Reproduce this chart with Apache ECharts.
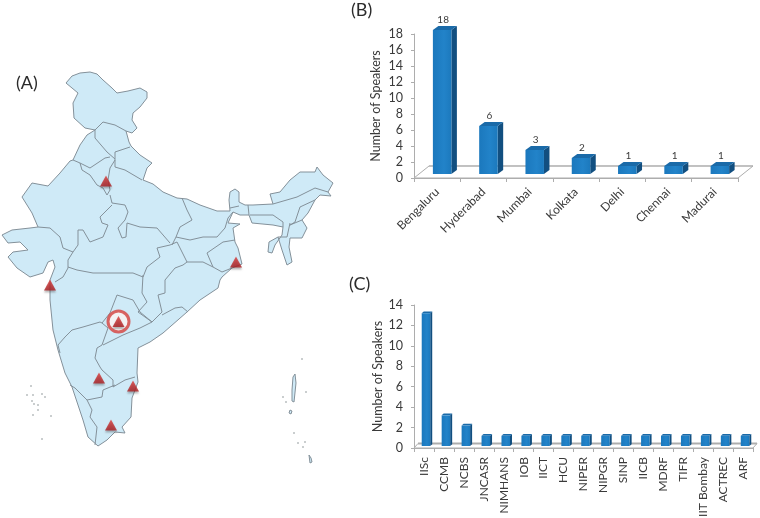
<!DOCTYPE html>
<html>
<head>
<meta charset="utf-8">
<style>html,body{margin:0;background:#fff}#chart{width:760px;height:518px;filter:blur(0.35px)}</style>
<script src="https://cdn.jsdelivr.net/npm/echarts@6/dist/echarts.min.js"></script>
</head>
<body>
<div id="chart"></div>
<script>
// panel B
const cities = ['Bengaluru', 'Hyderabad', 'Mumbai', 'Kolkata', 'Delhi', 'Chennai', 'Madurai']
const citySpeakers = [18, 6, 3, 2, 1, 1, 1]
// panel C
const institutes = ['IISc', 'CCMB', 'NCBS', 'JNCASR', 'NIMHANS', 'IOB', 'IICT', 'HCU', 'NIPER', 'NIPGR', 'SINP', 'IICB', 'MDRF', 'TIFR', 'IIT Bombay', 'ACTREC', 'ARF']
const instituteSpeakers = [13, 3, 2, 1, 1, 1, 1, 1, 1, 1, 1, 1, 1, 1, 1, 1, 1]

const cityMarkers = [[99, 378], [50, 285], [236, 262], [106, 181], [133, 386], [111, 425]]
const hostCity = [[118.5, 321.5]]
const indiaOutline = [
  [66,83],[72,76],[80,73],[90,72],[97,74],[103,80],[112,88],[117,93],[128,91],[140,88],[147,92],[147,98],[140,107],[133,113],[132,120],[137,128],[132,133],[126,131],
  [129,142],[131,146],[140,155],[152,163],[147,168],[143,180],[153,184],[163,192],[177,198],[187,199],[200,205],[217,211],[230,211],[229,200],[230,192],[235,189],[239,192],[239,202],[245,205],[253,205],[273,204],
  [270,194],[280,192],[290,180],[300,172],[315,172],[317,167],[323,175],[333,183],[328,192],[331,196],[320,195],[315,200],[308,213],[302,220],[307,228],[302,238],[290,238],[289,247],[292,262],[287,265],[282,250],[278,237],[269,242],[268,252],[272,253],[275,245],[282,235],
  [283,227],[273,225],[252,223],[249,215],[240,215],[233,212],[228,223],[240,224],[233,228],[235,242],[238,248],[242,264],
  [232,268],[222,277],[220,280],[218,288],[200,300],[187,312],[163,333],[150,342],[138,348],[137,373],[138,382],[132,398],[131,417],[122,427],[125,433],[115,432],[107,440],[98,446],[88,437],[83,420],[72,387],[65,373],[58,350],[53,330],[50,300],[50,285],
  [50,280],[55,267],[53,260],[48,262],[43,273],[30,277],[17,268],[8,257],[13,252],[28,250],[20,242],[8,243],[2,235],[12,230],[30,228],[38,227],
  [32,213],[22,197],[32,183],[48,186],[60,173],[70,161],[73,160],[80,145],[87,135],[95,130],[85,128],[74,118],[73,103],[78,93],[72,88]
]
const islandOutlines = [
  [[295,374],[296,383],[294,402],[292,401],[292,390],[293,377]],
  [[290,410],[292,411],[291,414],[289,413]],
  [[309,455],[311,458],[312,462],[310,463]]
]
const stateBorders = [
  [[95,130],[103,122],[115,125],[126,131]],
  [[95,130],[95,138],[107,152],[115,159]],
  [[115,159],[115,152],[130,147]],
  [[73,160],[80,163],[90,168],[105,158],[110,157]],
  [[115,159],[115,167],[125,170],[142,180]],
  [[80,163],[82,170],[90,175],[97,185],[103,188],[107,195],[110,190],[108,180],[110,168],[115,160]],
  [[110,195],[112,203],[125,205],[128,212],[125,220],[118,228],[122,238],[126,237],[127,223],[140,227],[157,228],[170,243]],
  [[112,205],[100,217],[102,223],[108,225],[103,237],[90,242],[83,230],[78,230],[78,245],[73,252]],
  [[38,227],[50,228],[60,237],[63,248],[73,252],[68,260],[68,268],[63,277],[55,282]],
  [[68,267],[77,270],[93,273],[117,273],[133,273],[143,277],[147,267],[160,257],[157,248],[170,245],[177,242]],
  [[182,198],[187,210],[192,220],[180,227],[176,237],[172,245]],
  [[176,237],[190,240],[203,237],[217,237],[225,228],[228,218],[233,212]],
  [[177,242],[187,262],[183,265],[175,268],[165,280],[165,293],[158,295],[162,312],[152,322]],
  [[187,262],[203,262],[213,267],[207,253],[223,242],[235,240]],
  [[213,267],[222,272],[232,268]],
  [[143,275],[142,293],[147,302],[138,312],[152,322]],
  [[162,315],[175,308],[182,307],[188,312]],
  [[152,322],[140,328],[123,335],[103,345]],
  [[117,295],[133,300],[140,312],[152,322]],
  [[117,295],[110,313],[102,323],[108,328],[102,345]],
  [[58,345],[65,337],[72,330],[83,327],[100,322],[102,323]],
  [[102,345],[97,348],[95,358],[100,367],[102,370],[113,380],[113,387],[125,380],[135,377]],
  [[115,385],[103,390],[102,397],[87,400],[75,388],[70,385]],
  [[87,400],[92,410],[90,417],[97,427],[95,445]],
  [[58,345],[60,353]],
  [[273,204],[297,197],[315,188],[328,192]],
  [[315,200],[300,207],[295,222],[290,225],[302,220]],
  [[250,215],[273,215],[283,222],[283,227]],
  [[290,223],[287,237]],
  [[278,237],[287,237]],
  [[230,208],[239,206]],
  [[248,205],[249,215]]
]
const islandDots = [
  [31,386],[27,395],[33,395],[42,394],[45,397],[32,401],[34,404],[38,405],[38,410],[33,415],[51,416],[42,439],
  [302,359],[306,392],[283,397],[286,402],[294,433],[298,443],[303,447],[305,442]
]

const fontFamily = 'Lato, "Open Sans", sans-serif'
const textColor = '#3a3a3a'
const gridColor = '#adadad'
const borderColor = '#84919a'

const toMap = p => [p[0], -p[1]]
const allTraced = indiaOutline.concat(...islandOutlines)
const xs = allTraced.map(p => p[0])
const ys = allTraced.map(p => p[1])
const minX = Math.min(...xs)
const minY = Math.min(...ys)

echarts.registerMap('india', {
  type: 'FeatureCollection',
  features: [indiaOutline].concat(islandOutlines).map((ring, i) => ({
    type: 'Feature',
    properties: { name: 'part' + i },
    geometry: { type: 'Polygon', coordinates: [ring.map(toMap)] }
  }))
})

const barColor = new echarts.graphic.LinearGradient(0, 0, 1, 0, [
  { offset: 0, color: '#1b78bd' },
  { offset: 0.6, color: '#2283c9' },
  { offset: 1, color: '#1c79bd' }
])

// floor of the fake 3d chart
const floorItem = (dx, dy, lineWidth) => (params, api) => {
  const r = params.coordSys
  const b = r.y + r.height
  return {
    type: 'group',
    children: [{
      type: 'polygon',
      shape: { points: [[r.x, b], [r.x + dx, b - dy], [r.x + r.width + dx, b - dy], [r.x + r.width, b]] },
      style: { fill: '#fff', stroke: gridColor, lineWidth: 1 }
    }, {
      type: 'line',
      shape: { x1: r.x + dx, y1: b - dy, x2: r.x + r.width + dx, y2: b - dy },
      style: { stroke: gridColor, lineWidth: lineWidth }
    }]
  }
}

// bar with front, side and top faces
const barItem = (w, dx, dy, offX, offY, showLabel) => (params, api) => {
  const base = api.coord([api.value(0), 0])
  const top = api.coord([api.value(0), api.value(1)])
  const x0 = base[0] + offX - w / 2
  const x1 = x0 + w
  const yb = base[1] - offY
  const yt = top[1] - offY
  const children = [{
    type: 'polygon',
    shape: { points: [[x1, yt], [x1 + dx, yt - dy], [x1 + dx, yb - dy], [x1, yb]] },
    style: { fill: '#124f80' }
  }, {
    type: 'polygon',
    shape: { points: [[x0, yt], [x0 + dx, yt - dy], [x1 + dx, yt - dy], [x1, yt]] },
    style: { fill: '#1a6aa8' }
  }, {
    type: 'rect',
    shape: { x: x0, y: yt, width: w, height: yb - yt },
    style: { fill: barColor }
  }]
  if (showLabel) {
    children.push({
      type: 'text',
      style: {
        text: String(api.value(1)),
        x: x0 + w / 2 + 1,
        y: yt - 10,
        align: 'center',
        verticalAlign: 'middle',
        font: '10px ' + fontFamily,
        fill: textColor
      }
    })
  }
  return { type: 'group', children: children }
}

const valueAxis = (gridIndex, max, gap) => ({
  type: 'value',
  gridIndex: gridIndex,
  min: 0,
  max: max,
  interval: 2,
  name: 'Number of Speakers',
  nameLocation: 'middle',
  nameGap: gap,
  nameTextStyle: { color: textColor, fontFamily: fontFamily, fontSize: 12.5 },
  axisLine: { show: true, lineStyle: { color: gridColor } },
  axisTick: { show: true, length: 3, lineStyle: { color: gridColor } },
  axisLabel: { color: textColor, fontFamily: fontFamily, fontSize: 12.5, margin: 11 },
  splitLine: { show: false }
})

const categoryAxis = (gridIndex, data, rotate, margin) => ({
  type: 'category',
  gridIndex: gridIndex,
  data: data,
  axisLine: { lineStyle: { color: gridColor } },
  axisTick: { show: true, length: 4, interval: 0, lineStyle: { color: gridColor } },
  axisLabel: { interval: 0, rotate: rotate, margin: margin, color: textColor, fontFamily: fontFamily, fontSize: 12, hideOverlap: false }
})

const panelTitle = (text, left, top) => ({
  text: text, left: left, top: top,
  textStyle: { color: '#2b2b2b', fontFamily: fontFamily, fontSize: 18, fontWeight: 'normal' }
})

const myChart = echarts.init(document.getElementById('chart'), null, { renderer: 'canvas' })
myChart.setOption({
  animation: false,
  backgroundColor: '#fff',
  title: [panelTitle('(A)', 11, 69), panelTitle('(B)', 346, -4), panelTitle('(C)', 344, 270)],
  tooltip: { show: false },
  geo: {
    map: 'india',
    silent: true,
    aspectScale: 1,
    roam: false,
    left: minX,
    top: minY,
    width: Math.max(...xs) - minX,
    height: Math.max(...ys) - minY,
    label: { show: false },
    emphasis: { disabled: true },
    itemStyle: { areaColor: '#cfeaf7', borderColor: borderColor, borderWidth: 1 }
  },
  grid: [
    { left: 414, top: 34, width: 324, height: 144, outerBoundsMode: 'none' },
    { left: 414, top: 305, width: 339, height: 143, outerBoundsMode: 'none' }
  ],
  xAxis: [categoryAxis(0, cities, 45, 12), categoryAxis(1, institutes, 90, 9)],
  yAxis: [valueAxis(0, 18, 32), valueAxis(1, 14, 24)],
  series: [
    {
      type: 'lines', coordinateSystem: 'geo', polyline: true, silent: true,
      lineStyle: { color: borderColor, width: 1, opacity: 1 },
      data: stateBorders.map(b => ({ coords: b.map(toMap) }))
    },
    {
      type: 'scatter', coordinateSystem: 'geo', silent: true, symbol: 'circle', symbolSize: 1.6,
      itemStyle: { color: '#6c7478' },
      data: islandDots.map(toMap)
    },
    {
      type: 'scatter', coordinateSystem: 'geo', silent: true, symbol: 'circle', symbolSize: 21, z: 3,
      itemStyle: { color: '#fdf4f1', borderColor: '#d5403c', borderWidth: 3 },
      data: hostCity.map(toMap)
    },
    {
      type: 'scatter', coordinateSystem: 'geo', silent: true, symbol: 'triangle', symbolSize: [12, 11], z: 4,
      itemStyle: {
        color: new echarts.graphic.LinearGradient(0, 0, 0, 1, [{ offset: 0, color: '#dd3a38' }, { offset: 1, color: '#a81a1e' }]),
        shadowColor: 'rgba(60,60,60,0.45)', shadowBlur: 2, shadowOffsetY: 2
      },
      data: cityMarkers.concat(hostCity).map(toMap)
    },
    {
      type: 'custom', xAxisIndex: 0, yAxisIndex: 0, silent: true, z: 1,
      renderItem: floorItem(15, 12, 1), data: [[0, 0]]
    },
    {
      type: 'custom', xAxisIndex: 1, yAxisIndex: 1, silent: true, z: 1,
      renderItem: floorItem(4, 4.5, 2), data: [[0, 0]]
    },
    {
      type: 'custom', xAxisIndex: 0, yAxisIndex: 0, silent: true, z: 2,
      encode: { x: 0, y: 1 },
      renderItem: barItem(18.5, 5.5, 4, 5, 4, true),
      data: citySpeakers.map((v, i) => [i, v])
    },
    {
      type: 'custom', xAxisIndex: 1, yAxisIndex: 1, silent: true, z: 2,
      encode: { x: 0, y: 1 },
      renderItem: barItem(8.5, 2, 1.8, 2, 2, false),
      data: instituteSpeakers.map((v, i) => [i, v])
    }
  ]
})
</script>
</body>
</html>
